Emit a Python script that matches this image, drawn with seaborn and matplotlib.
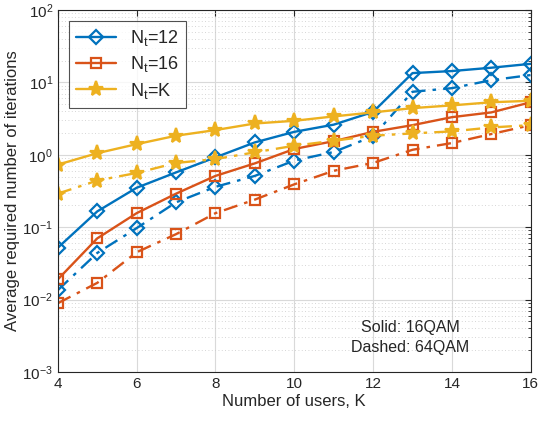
import matplotlib.pyplot as plt
import matplotlib as mpl
import numpy as np
import pandas as pd
import seaborn as sns

users = [4, 5, 6, 7, 8, 9, 10, 11, 12, 13, 14, 15, 16]

# 16QAM (solid)
nt12_16qam = [0.052, 0.165, 0.35, 0.57, 0.92, 1.48, 2.07, 2.6, 3.9, 13.4, 14.3, 15.9, 18.0]
nt16_16qam = [0.019, 0.070, 0.156, 0.29, 0.51, 0.76, 1.2, 1.54, 2.07, 2.56, 3.3, 3.84, 5.3]
ntK_16qam = [0.73, 1.05, 1.40, 1.83, 2.19, 2.7, 2.94, 3.38, 3.84, 4.4, 4.8, 5.3, 5.56]

# 64QAM (dash-dot)
nt12_64qam = [0.0135, 0.044, 0.097, 0.22, 0.36, 0.51, 0.83, 1.09, 1.8, 7.4, 8.3, 10.7, 12.6]
nt16_64qam = [0.0089, 0.017, 0.045, 0.080, 0.156, 0.24, 0.39, 0.60, 0.77, 1.17, 1.45, 1.93, 2.56]
ntK_64qam = [0.29, 0.44, 0.56, 0.77, 0.87, 1.08, 1.33, 1.56, 1.83, 1.97, 2.1, 2.38, 2.56]

labels = ['N$_\\mathregular{t}$=12', 'N$_\\mathregular{t}$=16', 'N$_\\mathregular{t}$=K']
colors = ['#0072BD', '#D95319', '#EDB120']
marks = ['D', 's', '*']
sizes = [7.5, 7, 11]

sns.set_style("white")
plt.rcParams['font.family'] = ['Liberation Sans', 'DejaVu Sans']
plt.rcParams['mathtext.fontset'] = 'custom'
plt.rcParams['mathtext.rm'] = 'Liberation Sans'

fig = plt.figure(figsize=(5.41, 4.30), dpi=100)
ax = fig.add_axes([0.107, 0.135, 0.874, 0.842])

solid = [nt12_16qam, nt16_16qam, ntK_16qam]
dashed = [nt12_64qam, nt16_64qam, ntK_64qam]

for i in range(3):
    fc = colors[i] if marks[i] == '*' else 'none'
    sns.lineplot(x=users, y=solid[i], ax=ax, color=colors[i], marker=marks[i],
                 markersize=sizes[i], markerfacecolor=fc, markeredgecolor=colors[i],
                 markeredgewidth=1.6, linewidth=1.7, linestyle='-', label=labels[i])
    sns.lineplot(x=users, y=dashed[i], ax=ax, color=colors[i], marker=marks[i],
                 markersize=sizes[i], markerfacecolor=fc, markeredgecolor=colors[i],
                 markeredgewidth=1.6, linewidth=1.7, linestyle=(0, (6, 3, 1.5, 3)), legend=False)

ax.set_yscale('log')
ax.set_xlim(4, 16)
ax.set_ylim(1e-3, 1e2)
ax.set_xticks([4, 6, 8, 10, 12, 14, 16])
ax.yaxis.set_major_locator(mpl.ticker.LogLocator(base=10, numticks=10))
ax.yaxis.set_minor_locator(mpl.ticker.LogLocator(base=10, subs=np.arange(2, 10), numticks=10))
ax.yaxis.set_minor_formatter(mpl.ticker.NullFormatter())

ax.grid(True, which='major', color='#d9d9d9', linewidth=0.8, linestyle='-')
ax.grid(True, which='minor', axis='y', color='#c8c8c8', linewidth=0.6, linestyle=(0, (1, 3)))
ax.set_axisbelow(True)

ax.tick_params(which='both', direction='in', top=True, right=True, labelsize=11, colors='#262626')
ax.tick_params(which='major', length=4)
ax.tick_params(which='minor', length=2)
for s in ax.spines.values():
    s.set_color('#262626')
    s.set_linewidth(0.8)

ax.set_xlabel('Number of users, K', fontsize=12, color='#262626', labelpad=2)
ax.set_ylabel('Average required number of iterations', fontsize=12, color='#262626', labelpad=2)

leg = ax.legend(loc='upper left', fontsize=13, frameon=True, fancybox=False,
                edgecolor='#262626', handlelength=2.2, borderaxespad=0.6, labelspacing=0.35)
leg.get_frame().set_linewidth(0.8)

ax.text(0.745, 0.095, 'Solid: 16QAM\nDashed: 64QAM', transform=ax.transAxes,
        ha='center', va='center', fontsize=11.5, color='#262626', linespacing=1.4)

plt.savefig('out.png', dpi=100)
